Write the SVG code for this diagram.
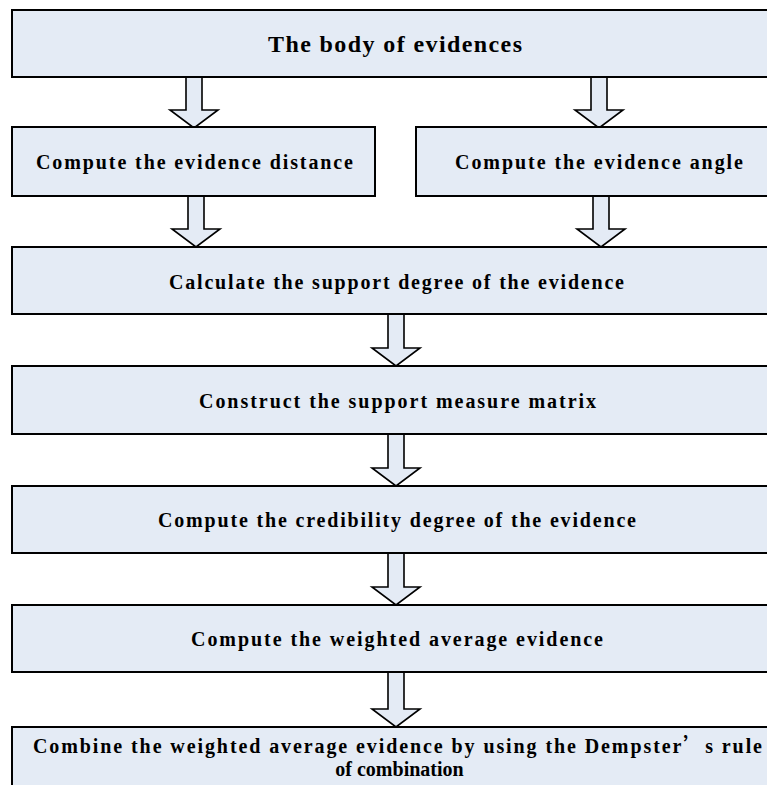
<svg xmlns="http://www.w3.org/2000/svg" width="767" height="785" viewBox="0 0 767 785">
<style>
.box{fill:#E4EBF5;stroke:#000;stroke-width:2}
.arr{fill:#E4EBF5;stroke:#000;stroke-width:1.6;stroke-linejoin:miter}
text{font-family:"Liberation Serif","Times New Roman",serif;font-weight:bold;fill:#000;text-anchor:middle}
</style>
<rect width="767" height="785" fill="#fff"/>
<g id="connectors">
<path class="arr" d="M186,77 V110 H170 L194,128 L218,110 H202 V77" />
<path class="arr" d="M591,77 V110 H575 L599,128 L623,110 H607 V77" />
<path class="arr" d="M188,196 V229 H172 L196,247 L220,229 H204 V196" />
<path class="arr" d="M593,196 V229 H577 L601,247 L625,229 H609 V196" />
<path class="arr" d="M388,314 V348 H372 L396,366 L420,348 H404 V314" />
<path class="arr" d="M388,434 V468 H372 L396,486 L420,468 H404 V434" />
<path class="arr" d="M388,553 V587 H372 L396,605 L420,587 H404 V553" />
<path class="arr" d="M388,672 V709 H372 L396,727 L420,709 H404 V672" />
</g>
<g id="n1"><rect class="box" x="12" y="10" width="770" height="67"/><text x="395" y="51.5" font-size="24" textLength="254">The body of evidences</text></g>
<g id="n2"><rect class="box" x="12" y="127" width="363" height="69"/><text x="194.5" y="169" font-size="20" textLength="317">Compute the evidence distance</text></g>
<g id="n3"><rect class="box" x="416" y="127" width="366" height="69"/><text x="599" y="169" font-size="20" textLength="288">Compute the evidence angle</text></g>
<g id="n4"><rect class="box" x="12" y="247" width="770" height="67"/><text x="396.5" y="288.5" font-size="20" textLength="455">Calculate the support degree of the evidence</text></g>
<g id="n5"><rect class="box" x="12" y="366" width="770" height="68"/><text x="397.5" y="407.5" font-size="20" textLength="397">Construct the support measure matrix</text></g>
<g id="n6"><rect class="box" x="12" y="486" width="770" height="67"/><text x="397" y="526.5" font-size="20" textLength="478">Compute the credibility degree of the evidence</text></g>
<g id="n7"><rect class="box" x="12" y="605" width="770" height="67"/><text x="397" y="645.5" font-size="20" textLength="412">Compute the weighted average evidence</text></g>
<g id="n8"><rect class="box" x="12" y="727" width="770" height="80"/><text x="397.5" y="752.5" font-size="20" textLength="729">Combine the weighted average evidence by using the Dempster<tspan font-family="'Noto Sans CJK SC',sans-serif">’</tspan>s rule</text><text x="399.5" y="776" font-size="20">of combination</text></g>
</svg>
